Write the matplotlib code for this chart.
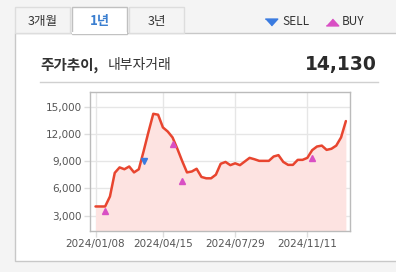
import numpy as np
import pandas as pd
import matplotlib
matplotlib.use("Agg")
import matplotlib.pyplot as plt
import matplotlib.dates as mdates
from matplotlib.patches import Rectangle
from matplotlib.ticker import FuncFormatter

plt.rcParams['font.family'] = ['Noto Sans CJK KR', 'DejaVu Sans']

# weekly closing prices (2024-01-08 .. 2025-01-06)
week_start = "2024-01-08"
prices = [4000, 4000, 4000, 5100, 7700, 8300, 8100, 8400, 7750, 8100,
          10100, 12200, 14200, 14100, 12700, 12250, 11600, 10350, 9000, 7750,
          7850, 8150, 7250, 7100, 7100, 7500, 8700, 8900, 8550, 8750,
          8550, 8950, 9350, 9200, 9020, 9020, 9020, 9500, 9650, 8900,
          8580, 8580, 9130, 9130, 9350, 10200, 10600, 10700, 10230, 10350,
          10700, 11600, 13400]

# insider trades
buy_dates = ["2024-01-22", "2024-04-29", "2024-05-13", "2024-11-18"]
buy_values = [3550, 10860, 6850, 9380]
sell_dates = ["2024-03-18"]
sell_values = [9020]

tick_dates = ["2024-01-08", "2024-04-15", "2024-07-29", "2024-11-11"]
y_ticks = [3000, 6000, 9000, 12000, 15000]
last_price = "14,130"

dates = pd.date_range(week_start, periods=len(prices), freq="W-MON")

W, H = 396, 272
fig = plt.figure(figsize=(W / 100, H / 100), dpi=100)
fig.patch.set_facecolor("#f4f4f4")

# squat triangles like the original legend icons
tri_up = [(-1, -0.55), (1, -0.55), (0, 0.55)]
tri_down = [(-1, 0.55), (1, 0.55), (0, -0.55)]


def px(x, y, w, h):
    return [x / W, 1 - (y + h) / H, w / W, h / H]


# panel and tabs
bg = fig.add_axes([0, 0, 1, 1])
bg.set_xlim(0, W)
bg.set_ylim(H, 0)
bg.axis("off")
bg.add_patch(Rectangle((15, 33), 390, 228, facecolor="white", edgecolor="#c8c8c8", lw=1))
tabs = [("3개월", 15, False), ("1년", 72, True), ("3년", 129, False)]
for label, x0, active in tabs:
    bg.add_patch(Rectangle((x0, 7), 55, 27 if active else 26,
                           facecolor="white" if active else "#f4f4f4",
                           edgecolor="#c0c0c0" if active else "#dddddd", lw=1, zorder=3))
    bg.text(x0 + 27.5, 21.5, label, ha="center", va="center",
            fontsize=9.5 if active else 9,
            color="#3b7fd0" if active else "#333333",
            fontweight="bold" if active else "normal", zorder=4)
# hide panel border under active tab
bg.plot([73, 126], [33, 33], color="white", lw=1.5, zorder=5)

bg.plot([271], [21.5], marker=tri_down, color="#3a7be0", markersize=9, ls="none")
bg.text(282, 21.5, "SELL", ha="left", va="center", fontsize=8.5, color="#333333")
bg.plot([331.5], [21.5], marker=tri_up, color="#d94fc4", markersize=9, ls="none")
bg.text(342, 21.5, "BUY", ha="left", va="center", fontsize=8.5, color="#333333")

bg.text(40, 65, "주가추이,", ha="left", va="center", fontsize=10.5, fontweight="bold", color="#333333")
bg.text(108, 65.5, "내부자거래", ha="left", va="center", fontsize=10, color="#333333")
bg.text(377, 64.5, last_price, ha="right", va="center", fontsize=13.5, fontweight="bold",
        color="#2b2b2b", family="DejaVu Sans")
bg.plot([40, 378], [82, 82], color="#d0d0d0", lw=1)

# chart
ax = fig.add_axes(px(90, 92, 260, 139))
ax.set_facecolor("white")
ax.fill_between(dates, prices, 0, color="#fde3e1", lw=0, zorder=1)
ax.plot(dates, prices, color="#e8452f", lw=1.8, zorder=3, solid_capstyle="round")
ax.plot(pd.to_datetime(buy_dates), buy_values, ls="none", marker="^", color="#d94fc4",
        markersize=4.5, zorder=4)
ax.plot(pd.to_datetime(sell_dates), sell_values, ls="none", marker="v", color="#3a7be0",
        markersize=4.5, zorder=4)

ax.set_ylim(1300, 16600)
ax.set_xlim(pd.Timestamp("2023-12-31"), pd.Timestamp("2025-01-12"))
ax.set_yticks(y_ticks)
ax.yaxis.set_major_formatter(FuncFormatter(lambda v, p: f"{int(v):,}"))
ax.set_xticks(pd.to_datetime(tick_dates))
ax.xaxis.set_major_formatter(mdates.DateFormatter("%Y/%m/%d"))
ax.grid(True, color="#e6e6e6", lw=1, zorder=0)
ax.set_axisbelow(True)
ax.tick_params(axis="both", colors="#dddddd", length=4, width=1, labelsize=7.5,
               labelcolor="#555555", pad=2)
for lab in ax.get_xticklabels() + ax.get_yticklabels():
    lab.set_family("DejaVu Sans")
for s in ax.spines.values():
    s.set_color("#bbbbbb")
    s.set_linewidth(1)

fig.savefig("out.png", dpi=100, facecolor=fig.get_facecolor())
